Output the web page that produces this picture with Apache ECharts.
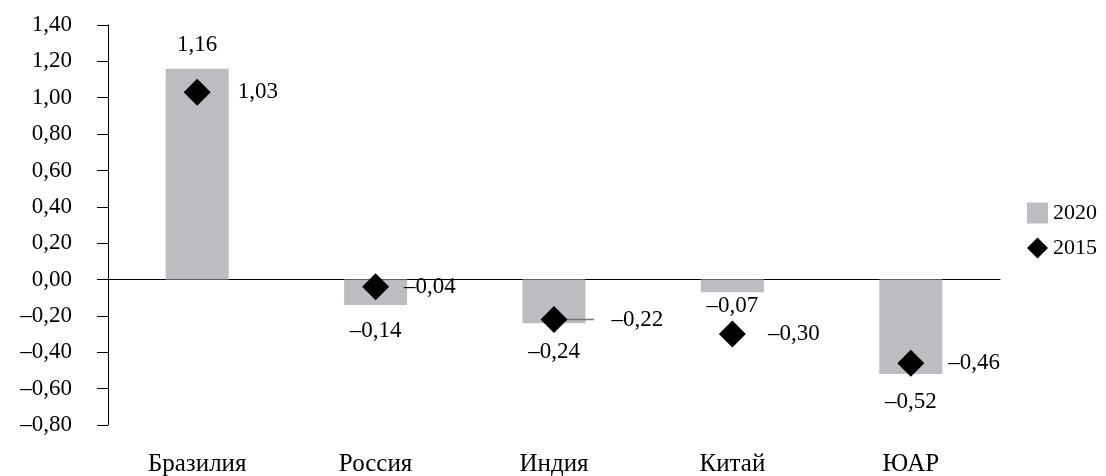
<!DOCTYPE html>
<html>
<head>
<meta charset="utf-8">
<script src="https://cdn.jsdelivr.net/npm/echarts@6/dist/echarts.min.js"></script>
<style>
  html, body { margin: 0; padding: 0; background: #fff; }
  #chart { width: 1106px; height: 476px; }
</style>
</head>
<body>
<div id="chart"></div>
<script>
// данные
const categories = ['Бразилия', 'Россия', 'Индия', 'Китай', 'ЮАР'];
const values2020 = [1.16, -0.14, -0.24, -0.07, -0.52];
const values2015 = [1.03, -0.04, -0.22, -0.30, -0.46];
const yTicks = { min: -0.8, max: 1.4, interval: 0.2 };

const font = 'Liberation Serif';
const fs = 23;
const fmt = v => v.toFixed(2).replace('.', ',').replace('-', '–');

// отступы подписей столбцов и ромбов (Индия — с выноской)
const labelGap2020 = [12, 14, 17, 2, 16];
const labelGap2015 = [27, 15, 44, 22, 24];

const chart = echarts.init(document.getElementById('chart'));

const option = {
  animation: false,
  textStyle: { fontFamily: font, color: '#000' },
  grid: { left: 108, right: 106, top: 25, bottom: 51, outerBoundsMode: 'none', containLabel: false },
  legend: {
    orient: 'vertical',
    right: 4,
    top: 197,
    itemWidth: 21,
    itemHeight: 21,
    itemGap: 13,
    textStyle: { fontFamily: font, fontSize: 22, color: '#000' },
    data: [
      { name: '2020', icon: 'rect' },
      { name: '2015', icon: 'diamond' }
    ]
  },
  xAxis: [
    {
      type: 'category',
      data: categories,
      axisLine: { onZero: true, lineStyle: { color: '#000', width: 1 } },
      axisTick: { show: false },
      axisLabel: { show: false }
    },
    {
      type: 'category',
      data: categories,
      position: 'bottom',
      axisLine: { show: false, onZero: false },
      axisTick: { show: false },
      axisLabel: { margin: 27, fontFamily: font, fontSize: 25, color: '#000' }
    }
  ],
  yAxis: {
    type: 'value',
    min: yTicks.min,
    max: yTicks.max,
    interval: yTicks.interval,
    splitLine: { show: false },
    axisLine: { show: true, lineStyle: { color: '#000' } },
    axisTick: { show: true, inside: false, length: 11, lineStyle: { color: '#000' } },
    axisLabel: {
      margin: 36,
      fontFamily: font,
      fontSize: fs,
      color: '#000',
      formatter: fmt
    }
  },
  series: [
    {
      name: '2020',
      type: 'bar',
      barWidth: 63,
      data: values2020.map((v, i) => ({
        value: v,
        label: { position: v >= 0 ? 'top' : 'bottom', distance: labelGap2020[i] }
      })),
      itemStyle: { color: '#bcbdc1' },
      label: {
        show: true,
        fontFamily: font,
        fontSize: fs,
        color: '#000',
        formatter: p => fmt(p.value)
      },
      z: 1
    },
    {
      name: '2015',
      type: 'scatter',
      symbol: 'diamond',
      symbolSize: 27,
      data: values2015.map((v, i) => ({ value: v, label: { distance: labelGap2015[i] } })),
      itemStyle: { color: '#000', opacity: 1 },
      label: {
        show: true,
        position: 'right',
        fontFamily: font,
        fontSize: fs,
        color: '#000',
        formatter: p => fmt(p.value)
      },
      z: 3
    }
  ]
};

chart.setOption(option);

// выноска для Индии
chart.setOption({
  graphic: (function () {
    const a = chart.convertToPixel({ xAxisIndex: 0, yAxisIndex: 0 }, [2, values2015[2]]);
    return [{
      type: 'line',
      shape: { x1: a[0], y1: a[1], x2: a[0] + 40, y2: a[1] },
      style: { stroke: '#777', lineWidth: 1.5 },
      z: 2
    }];
  })()
});
</script>
</body>
</html>
